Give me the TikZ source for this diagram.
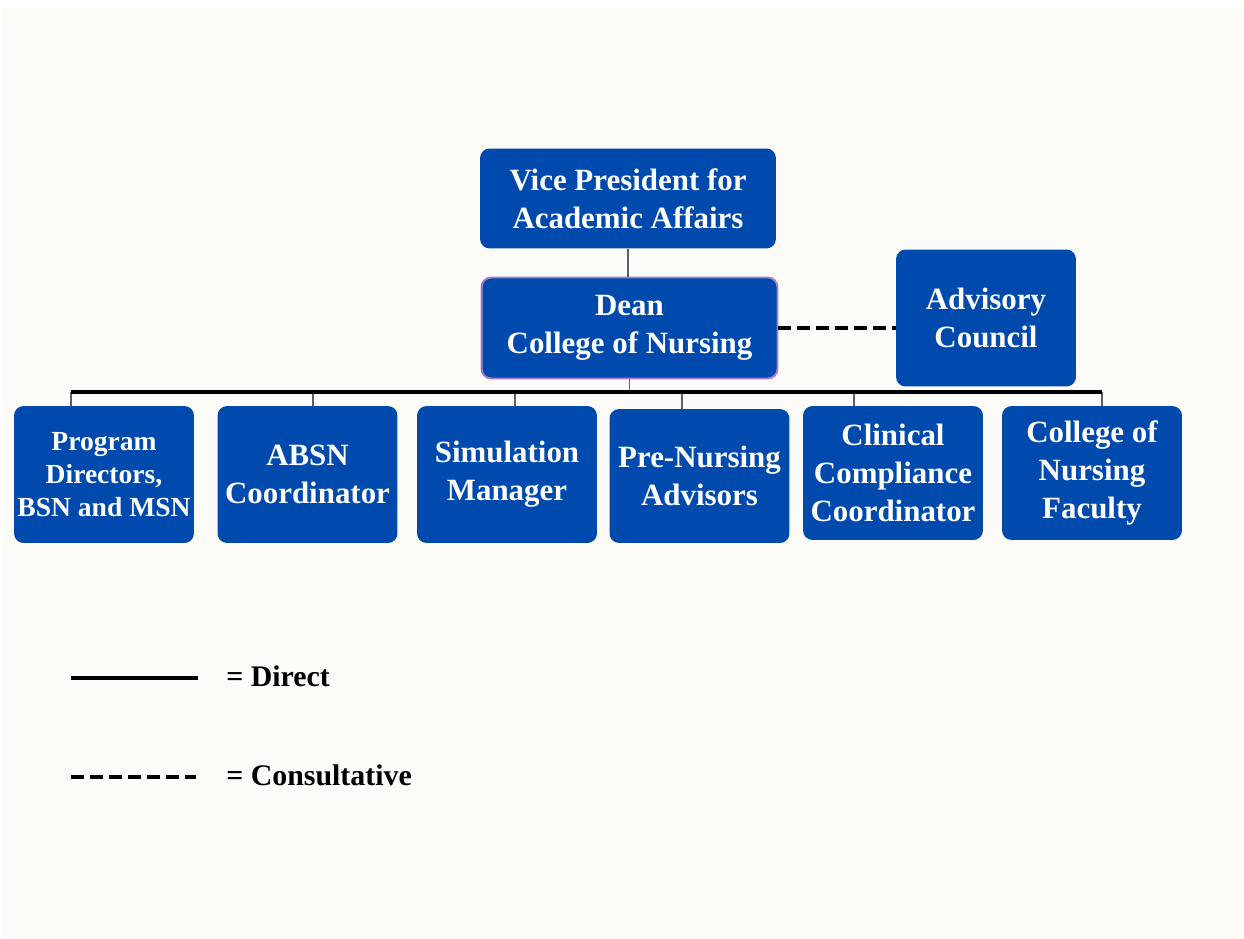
\documentclass[tikz,border=0pt]{standalone}
\usepackage{fontspec}
\setmainfont{Liberation Serif}
\definecolor{paper}{HTML}{FCFBF7}
\definecolor{unitblue}{HTML}{004AAD}
\definecolor{deanrim}{HTML}{A67CC8}
\definecolor{tick}{HTML}{606060}

\begin{document}
\begin{tikzpicture}[x=0.02cm,y=-0.02cm,
    unit/.style={fill=unitblue,rounded corners=5.5pt,text=white,align=center,
      font=\bfseries\fontsize{17.6}{21.6}\selectfont,inner sep=0pt},
    direct/.style={line width=2.3pt,black},
    consult/.style={line width=2.3pt,black,dash pattern=on 7.4pt off 3.4pt},
    link/.style={line width=0.8pt,tick},
    legendtext/.style={anchor=base west,inner sep=0pt,font=\bfseries\fontsize{17}{20}\selectfont}]
      \useasboundingbox (0,0) rectangle (1244,939);
      \fill[white] (0,0) rectangle (1244,939);
      \fill[paper] (3,8) rectangle (1244,939);
      % top of the chart
      \node[unit,minimum width=5.92cm,minimum height=2.0cm] (vp) at (628,198.5)
        {Vice President for\\Academic Affairs};
      \node[unit,draw=deanrim,line width=1.1pt,minimum width=5.92cm,minimum height=2.02cm] (dean) at (629.5,328)
        {Dean\\College of Nursing};
      \node[unit,minimum width=3.6cm,minimum height=2.74cm] (council) at (986,318)
        {Advisory\\Council};
      % units reporting to the dean
      \node[unit,minimum width=3.6cm,minimum height=2.74cm,font=\bfseries\fontsize{15.7}{19}\selectfont] (prog) at (104,474.5)
        {Program\\Directors,\\BSN and MSN};
      \node[unit,minimum width=3.6cm,minimum height=2.74cm] (absn) at (307.5,474.5)
        {ABSN\\Coordinator};
      \node[unit,minimum width=3.6cm,minimum height=2.74cm] (sim) at (507,474.5)
        {Simulation\\Manager};
      \node[unit,minimum width=3.6cm,minimum height=2.68cm] (prenurs) at (699.5,476)
        {Pre-Nursing\\Advisors};
      \node[unit,minimum width=3.6cm,minimum height=2.68cm] (clinical) at (893,473)
        {Clinical\\Compliance\\Coordinator};
      \node[unit,minimum width=3.6cm,minimum height=2.68cm] (faculty) at (1092,473)
        {College of\\Nursing\\Faculty};
      % reporting lines
      \coordinate (t1) at (71,392);
      \coordinate (t2) at (313,392);
      \coordinate (t3) at (515,392);
      \coordinate (t4) at (682,392);
      \coordinate (t5) at (854,392);
      \coordinate (t6) at (1102,392);
      \draw[link] (vp.south) -- (vp.south |- dean.north);
      \draw[link] (dean.south) -- (dean.south |- t1);
      \draw[link] (t1) -- (t1 |- prog.north);
      \draw[link] (t2) -- (t2 |- absn.north);
      \draw[link] (t3) -- (t3 |- sim.north);
      \draw[link] (t4) -- (t4 |- prenurs.north);
      \draw[link] (t5) -- (t5 |- clinical.north);
      \draw[link] (t6) -- (t6 |- faculty.north);
      \draw[direct] (t1) -- (t6);
      \draw[consult] (dean.east) -- (dean.east -| council.west);
      % legend
      \coordinate (d1) at (71,678);
      \coordinate (d2) at (198,678);
      \coordinate (c1) at (71,777);
      \coordinate (c2) at (196,777);
      \draw[direct] (d1) -- (d2);
      \draw[consult] (c1) -- (c2);
      \node[legendtext] (direct) at (226,686) {= Direct};
      \node[legendtext] (consult) at (226,785) {= Consultative};
\end{tikzpicture}
\end{document}
